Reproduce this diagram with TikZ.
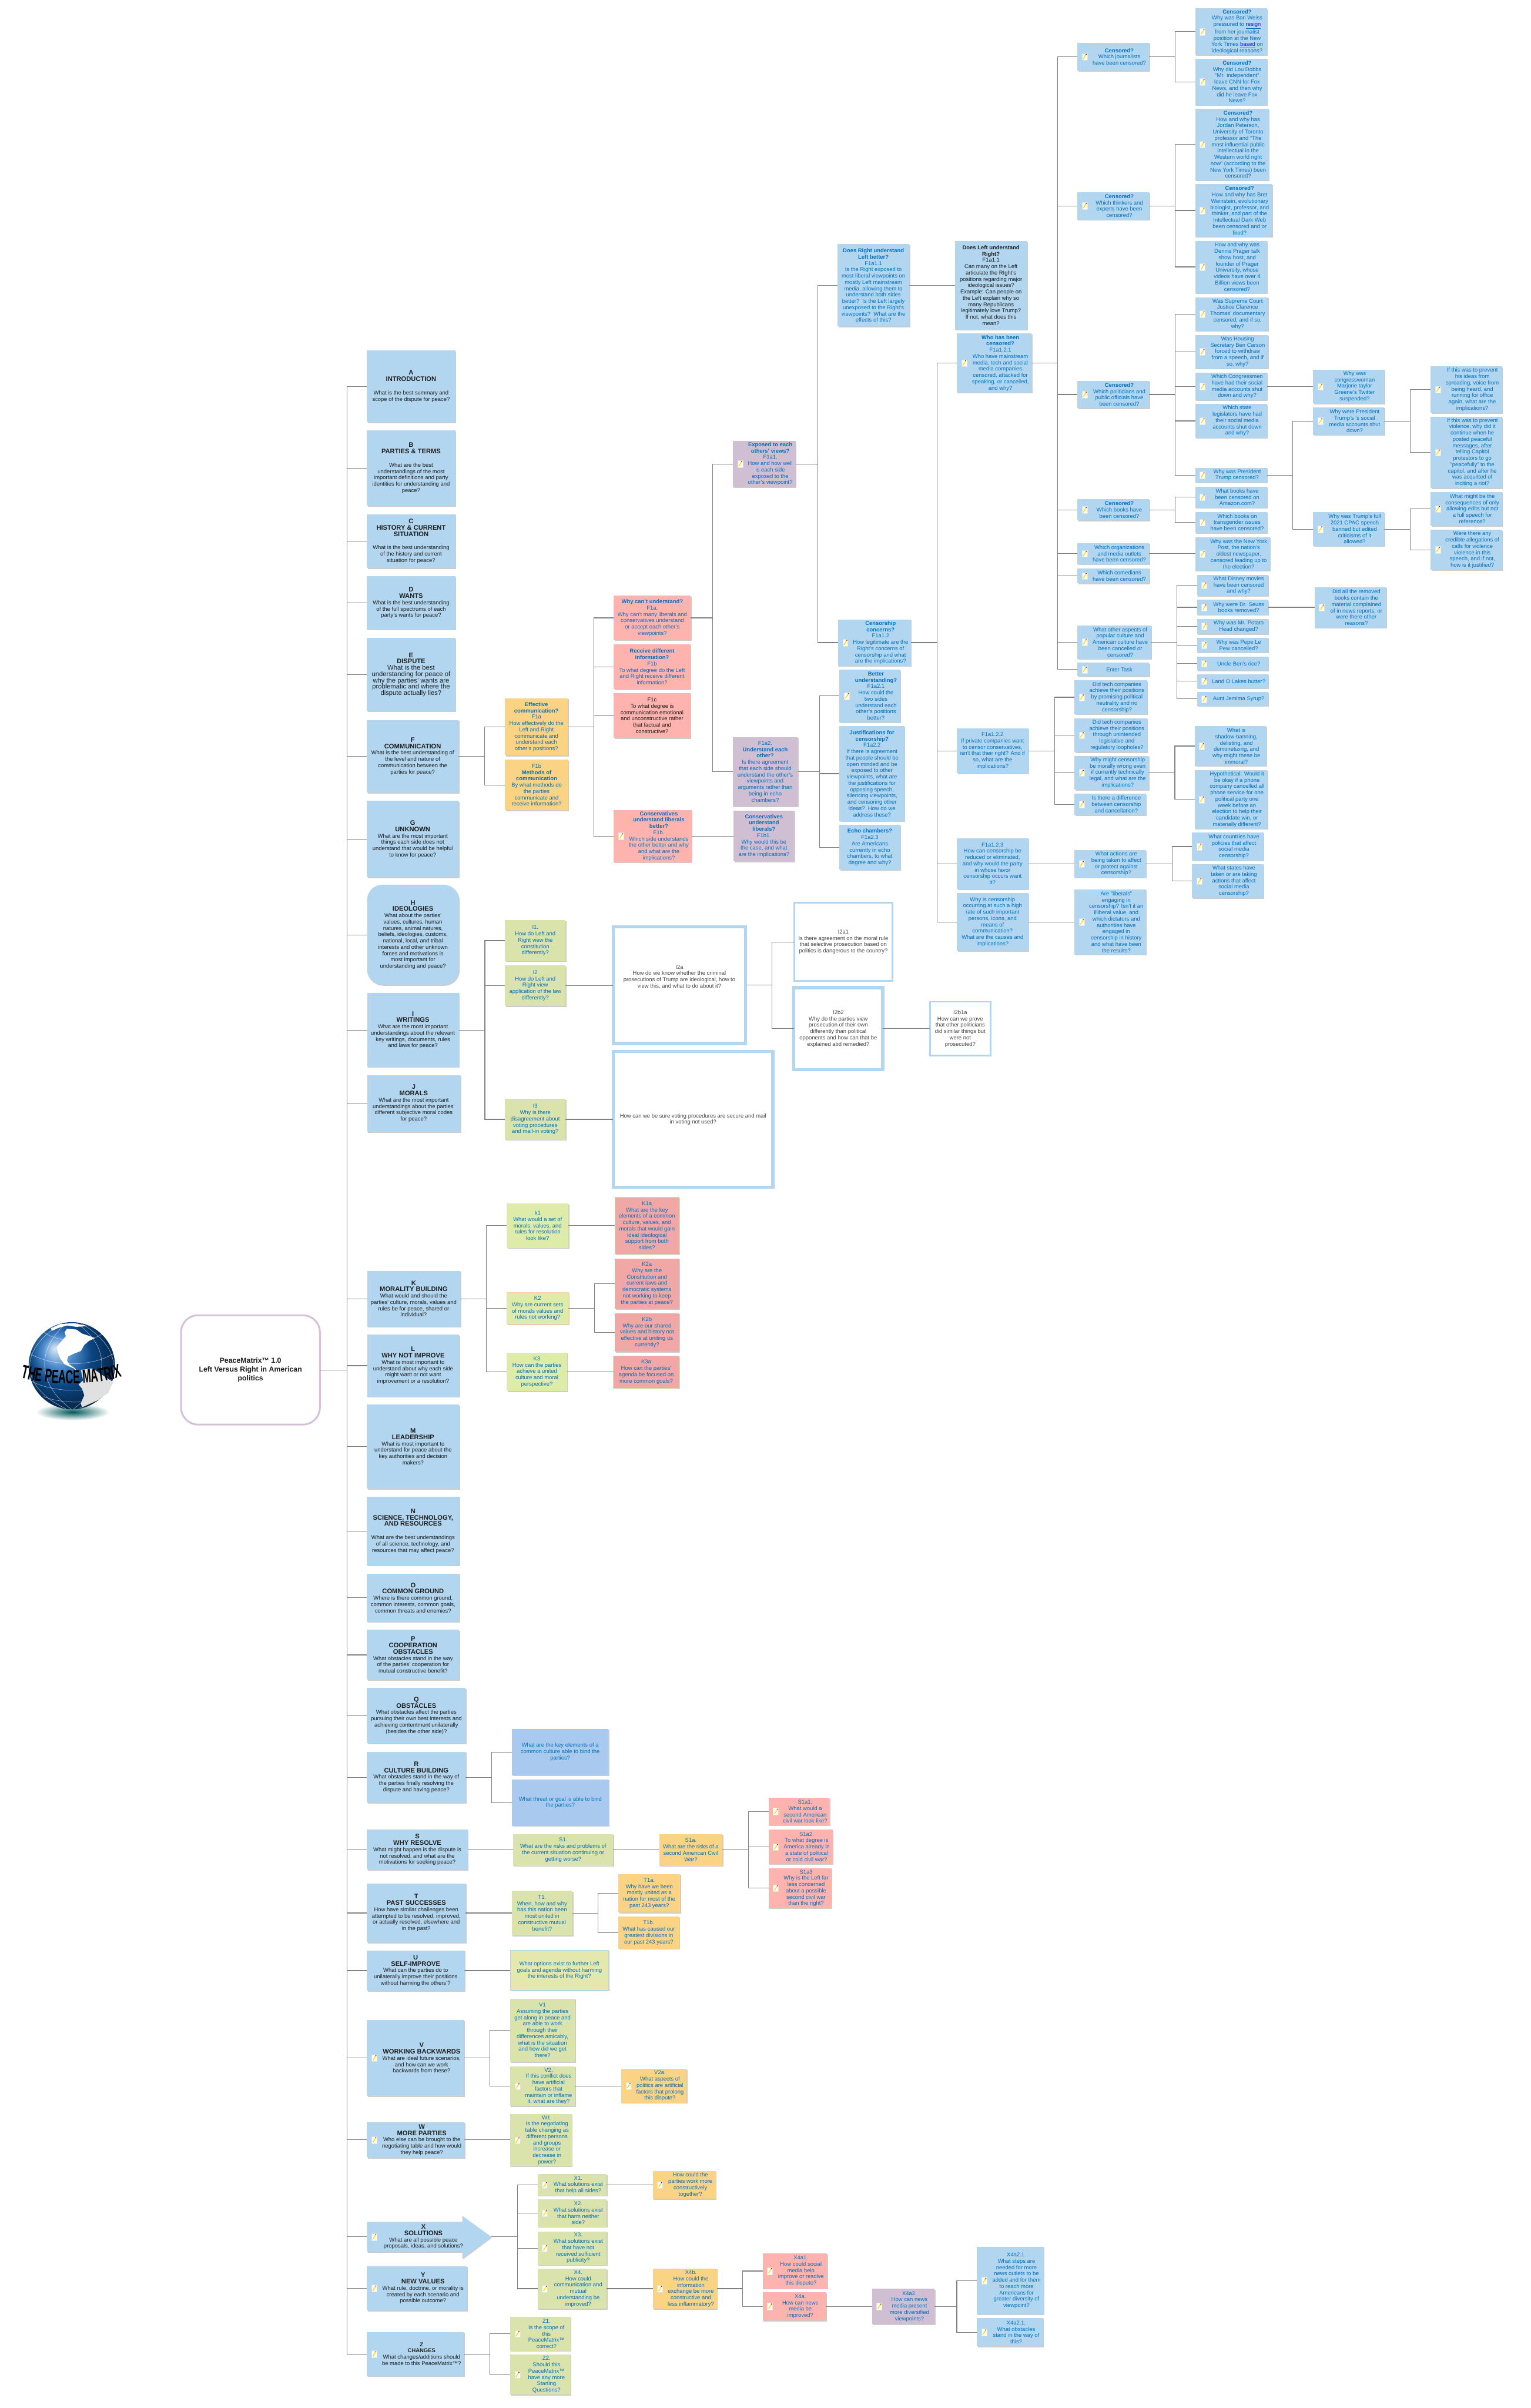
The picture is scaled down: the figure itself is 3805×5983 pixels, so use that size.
\documentclass[tikz,border=0pt]{standalone}
\usepackage{fontspec}
\setmainfont{Liberation Sans}
\newfontfamily\logofont[FakeStretch=0.55]{Liberation Sans}
\usetikzlibrary{shadows,decorations.text}
\definecolor{qblue}{HTML}{0070C0}
\definecolor{topink}{HTML}{1E1E1E}
\definecolor{frameink}{HTML}{444444}
\definecolor{cblue}{HTML}{B2D6EF}
\definecolor{corange}{HTML}{FBD384}
\definecolor{csalmon}{HTML}{FFB3AE}
\definecolor{cpurple}{HTML}{D0BED2}
\definecolor{cgreen}{HTML}{DAE3AC}
\definecolor{clime}{HTML}{DFEBA8}
\definecolor{cpink}{HTML}{F0A7A6}
\definecolor{cbluetwo}{HTML}{A9CAEE}
\definecolor{cyellow}{HTML}{E4E8AC}
\definecolor{linkgrey}{HTML}{808080}
\definecolor{frameblue}{HTML}{B2D6EF}
\definecolor{framepurple}{HTML}{D5C0D8}
\definecolor{globeblue}{HTML}{0F63BA}
\definecolor{linkblue}{HTML}{1A1AD0}
\tikzset{
  softshadow/.style={drop shadow={shadow xshift=1.1pt,shadow yshift=-1.1pt,opacity=.2,fill=black}},
  qbox/.style={rectangle,inner sep=0pt,outer sep=0pt,draw=none,softshadow},
  qtext/.style={align=center,inner sep=0pt,outer sep=0pt,font=\fontsize{6.9}{7.85}\selectfont},
  bblue/.style={fill=cblue},
  borange/.style={fill=corange},
  bsalmon/.style={fill=csalmon},
  bpurple/.style={fill=cpurple},
  bgreen/.style={fill=cgreen},
  blime/.style={fill=clime},
  bpink/.style={fill=cpink},
  bbluetwo/.style={fill=cbluetwo},
  byellow/.style={fill=cyellow},
  frame/.style={rectangle,inner sep=0pt,outer sep=0pt,fill=white,draw=frameblue,align=center,text=frameink,
      font=\fontsize{6.9}{7.85}\selectfont},
  linkline/.style={draw=linkgrey,line width=0.85pt},
  gridline/.style={draw=white,opacity=.65,line width=0.4pt},
}
\newcommand\crop[4]{\def\cX{#1}\def\cY{#2}\def\cSx{#3}\def\cSy{#4}}
\def\ink{qblue}
\newcommand\hd[1]{\textbf{#1}}
\newcommand\ttl[1]{{\fontsize{8.15}{8.3}\selectfont\bfseries #1}}
\newcommand\bigbody[1]{{\fontsize{8.2}{8.9}\selectfont #1}}
\newcommand\lnk[1]{\underline{\textcolor{linkblue}{#1}}}
\newcommand\placebox[6]{%
  \pgfmathsetmacro\pcx{\cX+(#2+#4)/2/\cSx}%
  \pgfmathsetmacro\pcy{\cY+(#3+#5)/2/\cSy}%
  \pgfmathsetmacro\pw{(#4-#2)/\cSx*0.5}%
  \pgfmathsetmacro\ph{(#5-#3)/\cSy*0.5}%
  \node[qbox,#6,minimum width=\pw pt,minimum height=\ph pt] (#1) at (\pcx,\pcy) {};}
\newcommand\noteicon[1]{%
  \begin{scope}[shift={(#1.west)}]
    \fill[white,draw=black!12,line width=.2pt] (11.5,-8.5) rectangle (24.5,8.5);
    \draw[draw=yellow!80!orange,line width=1.1pt] (14.5,6) -- (21.5,-5);
    \draw[draw=red!70!black,line width=1.1pt] (21.5,-5) -- (22.5,-6.7);
  \end{scope}}
\newcommand\qb[7]{\placebox{#1}{#2}{#3}{#4}{#5}{#6}%
  \node[qtext,text=\ink] (#1-t) at (#1.center) {#7};}
\newcommand\qbi[7]{\placebox{#1}{#2}{#3}{#4}{#5}{#6}\noteicon{#1}%
  \node[qtext,text=\ink,xshift=7.6pt] (#1-t) at (#1.center) {#7};}
\newcommand\tfork[3]{%
  \coordinate (trk) at (#2,0);
  \draw[linkline] (#1.east) -- (#1.east -| trk)
    foreach \chd in {#3} {(#1.east -| trk) -- (\chd.west -| trk) -- (\chd.west)};}
\newcommand\tlink[2]{\draw[linkline] (#1.east) -- (#1.east -| #2.west);}
\begin{document}
\begin{tikzpicture}[x=0.5pt,y=-0.5pt]
\useasboundingbox (0,0) rectangle (3805,5983);
\fill[white] (0,0) rectangle (3805,5983);

% ---------- globe logo (coordinates of the 900x420 crop) ----------
\begin{scope}[shift={(0,3200)},x=0.287pt,y=-0.16667pt]
  \shade[inner color=teal!70!black,outer color=white] (315,925) ellipse [x radius=160,y radius=62];
  \shade[ball color=globeblue] (311,580) ellipse [x radius=187,y radius=325];
  \draw[gridline] (190,330) .. controls (260,420) and (400,400) .. (440,345);
  \draw[gridline] (130,490) .. controls (230,590) and (400,590) .. (490,490);
  \draw[gridline] (135,695) .. controls (230,780) and (400,790) .. (480,700);
  \draw[gridline] (190,810) .. controls (260,860) and (360,860) .. (430,830);
  \draw[gridline] (290,258) .. controls (130,500) and (190,760) .. (310,905);
  \draw[gridline] (330,258) .. controls (520,500) and (430,760) .. (316,905);
  \draw[gridline] (270,262) .. controls (60,480) and (100,750) .. (285,900);
  \draw[gridline] (350,262) .. controls (560,480) and (520,750) .. (345,895);
  \fill[white] (290,305) -- (330,310) -- (355,340) -- (390,360) -- (410,375) -- (385,395) -- (365,425)
    -- (350,470) -- (320,490) -- (295,510) -- (290,540) -- (300,570) -- (325,600) -- (335,625)
    -- (320,600) -- (280,570) -- (262,530) -- (250,480) -- (245,440) -- (265,400) -- (285,360) -- (280,330) -- cycle;
  \fill[white!88!black] (350,610) -- (400,600) -- (470,680) -- (490,700) -- (470,780) -- (420,840) -- (355,890)
    -- (350,860) -- (365,800) -- (355,750) -- (340,720) -- (360,690) -- cycle;
  \fill[white] (220,300) -- (260,270) -- (320,262) -- (380,285) -- (330,290) -- (290,280) -- (250,300) -- (225,320) -- cycle;
  \path[decorate,decoration={text along path,text align=center,
      text={|\logofont\bfseries\fontsize{23.5}{24}\selectfont|THE PEACE MATRIX}}]
    (50,650) .. controls (200,735) and (420,735) .. (570,640);
\end{scope}

% ---------- root ----------
\node[frame,draw=framepurple,line width=2.2pt,rounded corners=21pt,minimum width=172.5pt,minimum height=135.75pt,
      text=topink,font=\fontsize{9}{11}\selectfont\bfseries] (root) at (622.5,3403.75)
  {PeaceMatrix™ 1.0\\Left Versus Right in American\\politics};

% ---------- top level A-G ----------
\def\ink{topink}
\crop{880}{850}{3}{1.206}
\qb{A}{96}{25}{754}{240}{bblue}{\ttl{A}\\\ttl{INTRODUCTION}\\[8.7pt]What is the best summary and\\scope of the dispute for peace?}
\qb{B}{96}{265}{754}{490}{bblue}{\ttl{B}\\\ttl{PARTIES \& TERMS}\\[8.7pt]What are the best\\understandings of the most\\important definitions and party\\identities for understanding and\\peace?}
\qb{C}{96}{516}{754}{677}{bblue}{\ttl{C}\\\ttl{HISTORY \& CURRENT}\\\ttl{SITUATION}\\[8.7pt]What is the best understanding\\of the history and current\\situation for peace?}
\qb{D}{96}{702}{754}{861}{bblue}{\ttl{D}\\\ttl{WANTS}\\What is the best understanding\\of the full spectrums of each\\party's wants for peace?}
\qb{E}{96}{887}{754}{1106}{bblue}{\ttl{E}\\\ttl{DISPUTE}\\\bigbody{What is the best}\\\bigbody{understanding for peace of}\\\bigbody{why the parties' wants are}\\\bigbody{problematic and where the}\\\bigbody{dispute actually lies?}}
\qb{F}{96}{1132}{778}{1350}{bblue}{\ttl{F}\\\ttl{COMMUNICATION}\\What is the best understanding of\\the level and nature of\\communication between the\\parties for peace?}
\qb{G}{96}{1375}{778}{1604}{bblue}{\ttl{G}\\\ttl{UNKNOWN}\\What are the most important\\things each side does not\\understand that would be helpful\\to know for peace?}

% ---------- H-L and their children ----------
\crop{880}{2180}{1.3635}{1.206}
\qb{H}{44}{22}{355}{322}{bblue,rounded corners=19pt}{\ttl{H}\\\ttl{IDEOLOGIES}\\What about the parties'\\values, cultures, human\\natures, animal natures,\\beliefs, ideologies, customs,\\national, local, and tribal\\interests and other unknown\\forces and motivations is\\most important for\\understanding and peace?}
\qb{I}{44}{347}{355}{568}{bblue}{\ttl{I}\\\ttl{WRITINGS}\\What are the most important\\understandings about the relevant\\key writings, documents, rules\\and laws for peace?}
\qb{J}{44}{592}{360}{762}{bblue}{\ttl{J}\\\ttl{MORALS}\\What are the most important\\understandings about the parties'\\different subjective moral codes\\for peace?}
\qb{K}{44}{1179}{360}{1346}{bblue}{\ttl{K}\\\ttl{MORALITY BUILDING}\\What would and should the\\parties' culture, morals, values and\\rules be for peace, shared or\\individual?}
\qb{L}{44}{1370}{356}{1556}{bblue}{\ttl{L}\\\ttl{WHY NOT IMPROVE}\\What is most important to\\understand about why each side\\might want or not want\\improvement or a resolution?}
\def\ink{qblue}
\qb{i1}{511}{128}{717}{251}{bgreen}{I1.\\How do Left and\\Right view the\\constitution\\differently?}
\qb{i2}{511}{264}{717}{385}{bgreen}{I2\\How do Left and\\Right view\\application of the law\\differently?}
\qb{i3}{511}{664}{717}{786}{bgreen}{I3\\Why is there\\disagreement about\\voting procedures\\and mail-in voting?}
\qb{k1}{517}{977}{727}{1110}{blime}{k1\\What would a set of\\morals, values, and\\rules for resolution\\look like?}
\qb{k2}{517}{1243}{727}{1339}{blime,draw=orange!35,line width=.6pt}{K2\\Why are current sets\\of morals values and\\rules not working?}
\qb{k3}{517}{1424}{722}{1539}{blime}{K3\\How can the parties\\achieve a united\\culture and moral\\perspective?}
\qb{ka1}{884}{958}{1101}{1129}{bpink,draw=cgreen,line width=.6pt}{K1a\\What are the key\\elements of a common\\culture, values, and\\morals that would gain\\ideal ideological\\support from both\\sides?}
\qb{ka2}{884}{1142}{1101}{1293}{bpink}{K2a\\Why are the\\Constitution and\\current laws and\\democratic systems\\not working to keep\\the parties at peace?}
\qb{kb2}{884}{1306}{1101}{1421}{bpink}{K2b\\Why are our shared\\values and history not\\effective at uniting us\\currently?}
\qb{ka3}{879}{1434}{1101}{1530}{bpink,draw=cgreen,line width=.6pt}{K3a\\How can the parties'\\agenda be focused on\\more common goals?}

% white framed question boxes
\node[frame,line width=4pt,minimum width=164.5pt,minimum height=145.2pt] (i2a) at (1688.5,2447.8)
  {I2a\\How do we know whether the criminal\\prosecutions of Trump are ideological, how to\\view this, and what to do about it?\\[14pt]\mbox{}};
\node[frame,line width=4pt,minimum width=198.5pt,minimum height=168.5pt] (vote) at (1722.5,2781.2)
  {How can we be sure voting procedures are secure and mail\\in voting not used?};
\node[frame,line width=2.1pt,minimum width=122pt,minimum height=97.2pt] (qa) at (2096,2340.2)
  {I2a1\\Is there agreement on the moral rule\\that selective prosecution based on\\politics is dangerous to the country?};
\node[frame,line width=3.75pt,minimum width=110.5pt,minimum height=102pt] (qb) at (2083.5,2556)
  {I2b2\\Why do the parties view\\prosecution of their own\\differently than political\\opponents and how can that be\\explained abd remedied?};
\node[frame,line width=2pt,minimum width=75.5pt,minimum height=67pt] (qc) at (2386.5,2556)
  {I2b1a\\How can we prove\\that other politicians\\did similar things but\\were not\\prosecuted?};

% ---------- M-R ----------
\def\ink{topink}
\crop{880}{3480}{3}{1.4255}
\qb{M}{96}{14}{784}{312}{bblue}{\ttl{M}\\\ttl{LEADERSHIP}\\What is most important to\\understand for peace about the\\key authorities and decision\\makers?}
\qb{N}{96}{340}{784}{584}{bblue}{\ttl{N}\\\ttl{SCIENCE, TECHNOLOGY,}\\\ttl{AND RESOURCES}\\[8.7pt]What are the best understandings\\of all science, technology, and\\resources that may affect peace?}
\qb{O}{96}{613}{784}{783}{bblue}{\ttl{O}\\\ttl{COMMON GROUND}\\Where is there common ground,\\common interests, common goals,\\common threats and enemies?}
\qb{P}{96}{812}{784}{989}{bblue}{\ttl{P}\\\ttl{COOPERATION}\\\ttl{OBSTACLES}\\What obstacles stand in the way\\of the parties' cooperation for\\mutual constructive benefit?}
\qb{Q}{96}{1018}{832}{1214}{bblue}{\ttl{Q}\\\ttl{OBSTACLES}\\What obstacles affect the parties\\pursuing their own best interests and\\achieving contentment unilaterally\\(besides the other side)?}
\qb{R}{96}{1244}{832}{1424}{bblue}{\ttl{R}\\\ttl{CULTURE BUILDING}\\What obstacles stand in the way of\\the parties finally resolving the\\dispute and having peace?}

% ---------- S-Z ----------
\crop{880}{4500}{1.96}{1.0573}
\qb{S}{63}{49}{553}{154}{bblue}{\ttl{S}\\\ttl{WHY RESOLVE}\\What might happen is the dispute is\\not resolved, and what are the\\motivations for seeking peace?}
\qb{T}{63}{190}{543}{345}{bblue}{\ttl{T}\\\ttl{PAST SUCCESSES}\\How have similar challenges been\\attempted to be resolved, improved,\\or actually resolved, elsewhere and\\in the past?}
\qb{U}{63}{366}{537}{472}{bblue}{\ttl{U}\\\ttl{SELF-IMPROVE}\\What can the parties do to\\unilaterally improve their positions\\without harming the others'?}
\qbi{V}{63}{549}{535}{748}{bblue}{\ttl{V}\\\ttl{WORKING BACKWARDS}\\What are ideal future scenarios,\\and how can we work\\backwards from these?}
\qbi{W}{63}{817}{537}{910}{bblue}{\ttl{W}\\\ttl{MORE PARTIES}\\Who else can be brought to the\\negotiating table and how would\\they help peace?}
\path[fill=cblue,softshadow] (912,5520.5) -- (1149,5520.5) -- (1149,5505.4) -- (1220.8,5557.7) -- (1149,5611)
  -- (1149,5595) -- (912,5595) -- cycle;
\node[rectangle,inner sep=0pt,outer sep=0pt,minimum width=154.4pt,minimum height=37.2pt] (X) at (1066.4,5557.7) {};
\noteicon{X}
\node[qtext,text=\ink] (X-t) at (1052.4,5557.7) {\ttl{X}\\\ttl{SOLUTIONS}\\What are all possible peace\\proposals, ideas, and solutions?};
\qbi{Y}{63}{1195}{549}{1312}{bblue}{\ttl{Y}\\\ttl{NEW VALUES}\\What rule, doctrine, or morality is\\created by each scenario and\\possible outcome?}
\qbi{Z}{63}{1368}{535}{1484}{bblue}{\hd{Z}\\\hd{CHANGES}\\What changes/additions should\\be made to this PeaceMatrix™?}
\def\ink{qblue}
\qbi{w1}{760}{796}{1060}{933}{bgreen}{W1.\\Is the negotiating\\table changing as\\different persons\\and groups\\increase or\\decrease in\\power?}
\qbi{x1}{894}{954}{1230}{1010}{bgreen}{X1.\\What solutions exist\\that help all sides?}
\qbi{x2}{894}{1020}{1230}{1092}{bgreen}{X2.\\What solutions exist\\that harm neither\\side?}
\qbi{x3}{894}{1104}{1230}{1192}{bgreen}{X3.\\What solutions exist\\that have not\\received sufficient\\publicity?}
\qbi{x4}{894}{1202}{1230}{1307}{bgreen}{X4.\\How could\\communication and\\mutual\\understanding be\\improved?}
\qbi{z1}{760}{1328}{1055}{1418}{bgreen}{Z1.\\Is the scope of\\this\\PeaceMatrix™\\correct?}
\qbi{z2}{760}{1428}{1055}{1533}{bgreen}{Z2.\\Should this\\PeaceMatrix™\\have any more\\Starting\\Questions?}

\crop{1200}{4280}{1.742}{1.568}
\qb{r1}{126}{24}{544}{205}{bbluetwo}{What are the key elements of a\\common culture able to bind the\\parties?}
\qb{r2}{126}{221}{545}{402}{bbluetwo}{What threat or goal is able to bind\\the parties?}
\qb{s1}{132}{434}{564}{558}{bgreen}{S1.\\What are the risks and problems of\\the current situation continuing or\\getting worse?}
\qb{s1a}{764}{434}{1037}{558}{borange}{S1a.\\What are the risks of a\\second American Civil\\War?}
\qbi{s1a1}{1237}{293}{1501}{400}{bsalmon}{S1a1.\\What would a\\second American\\civil war look like?}
\qbi{s1a2}{1237}{417}{1514}{551}{bsalmon}{S1a2.\\To what degree is\\America already in\\a state of political\\or cold civil war?}
\qbi{s1a3}{1237}{567}{1509}{723}{bsalmon}{S1a3\\Why is the Left far\\less concerned\\about a possible\\second civil war\\than the right?}
\qb{t1}{125}{655}{388}{829}{bgreen}{T1.\\When, how and why\\has this nation been\\most united in\\constructive mutual\\benefit?}
\qb{t1a}{587}{590}{854}{740}{borange}{T1a.\\Why have we been\\mostly united as a\\nation for most of the\\past 243 years?}
\qb{t1b}{587}{756}{850}{881}{borange}{T1b.\\What has caused our\\greatest divisions in\\our past 243 years?}
\qb{u1}{119}{888}{544}{1043}{byellow,draw=cblue,line width=.8pt}{What options exist to further Left\\goals and agenda without harming\\the interests of the Right?}
\qb{v1}{118}{1075}{399}{1322}{bgreen}{V1\\Assuming the parties\\get along in peace and\\are able to work\\through their\\differences amicably,\\what is the situation\\and how did we get\\there?}
\qbi{v2}{118}{1339}{399}{1494}{bgreen}{V2.\\If this conflict does\\have artificial\\factors that\\maintain or inflame\\it, what are they?}
\qbi{v2a}{599}{1349}{882}{1481}{borange}{V2a.\\What aspects of\\politics are artificial\\factors that prolong\\this dispute?}

\crop{1600}{5350}{1.3067}{2.477}
\qbi{xwork}{29}{110}{234}{280}{borange}{How could the\\parties work more\\constructively\\together?}
\qbi{xfb}{29}{710}{237}{957}{borange}{X4b.\\How could the\\information\\exchange be more\\constructive and\\less inflammatory?}
\qbi{xfa}{386}{617}{595}{832}{bsalmon}{X4a1.\\How could social\\media help\\improve or resolve\\this dispute?}
\qbi{xfn}{386}{855}{591}{1030}{bsalmon}{X4a.\\How can news\\media be\\improved?}
\qbi{xfp}{741}{835}{945}{1051}{bpurple}{X4a2.\\How can news\\media present\\more diversified\\viewpoints?}
\qbi{xfs}{1082}{577}{1299}{991}{bblue}{X4a2.1.\\What steps are\\needed for more\\news outlets to be\\added and for them\\to reach more\\Americans for\\greater diversity of\\viewpoint?}
\qbi{xfo}{1082}{1014}{1297}{1189}{bblue}{X4a2.1.\\What obstacles\\stand in the way of\\this?}

% ---------- F branch ----------
\crop{1200}{1050}{1.96}{1.3635}
\qb{effective}{108}{934}{414}{1128}{borange}{\hd{Effective}\\\hd{communication?}\\F1a\\How effectively do the\\Left and Right\\communicate and\\understand each\\other's positions?}
\qb{methods}{108}{1142}{416}{1313}{borange}{F1b\\\hd{Methods of}\\\hd{communication}\\By what methods do\\the parties\\communicate and\\receive information?}
\qb{whycant}{638}{586}{1013}{737}{bsalmon}{\hd{Why can't understand?}\\F1a.\\Why can't many liberals and\\conservatives understand\\or accept each other's\\viewpoints?}
\qb{receive}{638}{752}{1011}{903}{bsalmon}{\hd{Receive different}\\\hd{information?}\\F1b\\To what degree do the Left\\and Right receive different\\information?}
\def\ink{topink}
\qb{fc}{638}{917}{1011}{1068}{bsalmon}{F1c\\To what degree is\\communication emotional\\and unconstructive rather\\that factual and\\constructive?}
\def\ink{qblue}
\qbi{conserv}{638}{1312}{1017}{1490}{bsalmon}{\hd{Conservatives}\\\hd{understand liberals}\\\hd{better?}\\F1b.\\Which side understands\\the other better and why\\and what are the\\implications?}
\qb{consund}{1222}{1314}{1517}{1487}{bpurple}{\hd{Conservatives}\\\hd{understand}\\\hd{liberals?}\\F1b1.\\Why would this be\\the case, and what\\are the implications?}
\qbi{exposed}{1218}{62}{1523}{218}{bpurple}{\hd{Exposed to each}\\\hd{others' views?}\\F1a1.\\How and how well\\is each side\\exposed to the\\other's viewpoint?}
\qb{faII}{1218}{1065}{1533}{1300}{bpurple}{F1a2.\\\hd{Understand each}\\\hd{other?}\\Is there agreement\\that each side should\\understand the other's\\viewpoints and\\arguments rather than\\being in echo\\chambers?}

\crop{1750}{580}{1.742}{1.568}
\qb{rightb}{578}{42}{888}{362}{bblue}{\hd{Does Right understand}\\\hd{Left better?}\\F1a1.1\\Is the Right exposed to\\most liberal viewpoints on\\mostly Left mainstream\\media, allowing them to\\understand both sides\\better?\ \ Is the Left largely\\unexposed to the Right's\\viewpoints?\ \ What are the\\effects of this?}
\def\ink{topink}
\qb{leftu}{1087}{30}{1397}{375}{bblue}{\hd{Does Left understand}\\\hd{Right?}\\F1a1.1\\Can many on the Left\\articulate the RIght's\\positions regarding major\\ideological issues?\\Example: Can people on\\the Left explain why so\\many Republicans\\legitimately love Trump?\\If not, what does this\\mean?}
\def\ink{qblue}
\qbi{who}{1094}{390}{1418}{620}{bblue}{\hd{Who has been}\\\hd{censored?}\\F1a1.2.1\\Who have mainstream\\media, tech and social\\media companies\\censored, attacked for\\speaking, or cancelled,\\and why?}

\crop{2000}{1500}{1.3067}{1.568}
\qbi{concerns}{108}{61}{345}{242}{bblue}{\hd{Censorship}\\\hd{concerns?}\\F1a1.2\\How legitimate are the\\Right's concerns of\\censorship and what\\are the implications?}
\qbi{better}{113}{257}{310}{462}{bblue}{\hd{Better}\\\hd{understanding?}\\F1a2.1\\How could the\\two sides\\understand each\\other's positions\\better?}
\qb{justif}{113}{477}{324}{847}{bblue}{\hd{Justifications for}\\\hd{censorship?}\\F1a2.2\\If there is agreement\\that people should be\\open minded and be\\exposed to other\\viewpoints, what are\\the justifications for\\opposing speech,\\silencing viewpoints,\\and censoring other\\ideas?\ \ How do we\\address these?}
\qb{echo}{113}{862}{310}{1036}{bblue}{\hd{Echo chambers?}\\F1a2.3\\Are Americans\\currently in echo\\chambers, to what\\degree and why?}
\qb{fbb}{494}{486}{726}{660}{bblue}{F1a1.2.2\\If private companies want\\to censor conservatives,\\isn't that their right? And if\\so, what are the\\implications?}
\qbi{tecka}{876}{299}{1112}{430}{bblue}{Did tech companies\\achieve their positions\\by promising political\\neutrality and no\\censorship?}
\qbi{teckb}{876}{446}{1112}{578}{bblue}{Did tech companies\\achieve their positions\\through unintended\\legislative and\\regulatory loopholes?}
\qbi{moral}{876}{593}{1117}{724}{bblue}{Why might censorship\\be morally wrong even\\if currently technically\\legal, and what are the\\implications?}
\qbi{differ}{876}{740}{1108}{823}{bblue}{Is there a difference\\between censorship\\and cancellation?}
\qbi{shadow}{1266}{477}{1498}{632}{bblue}{What is\\shadow-banning,\\delisting, and\\demonetizing, and\\why might these be\\immoral?}
\qbi{hypo}{1266}{648}{1502}{877}{bblue}{Hypothetical: Would it\\be okay if a phone\\company cancelled all\\phone service for one\\political party one\\week before an\\election to help their\\candidate win, or\\materially different?}
\qb{fbc}{494}{914}{726}{1112}{bblue}{F1a1.2.3\\How can censorship be\\reduced or eliminated,\\and why would the party\\in whose favor\\censorship occurs want\\it?}
\qbi{actions}{876}{960}{1108}{1067}{bblue}{What actions are\\being taken to affect\\or protect against\\censorship?}
\qbi{countries}{1258}{892}{1490}{1000}{bblue}{What countries have\\policies that affect\\social media\\censorship?}
\qbi{states}{1258}{1015}{1490}{1146}{bblue}{What states have\\taken or are taking\\actions that affect\\social media\\censorship?}
\qb{causes}{494}{1128}{726}{1352}{bblue}{Why is censorship\\occurring at such a high\\rate of such important\\persons, icons, and\\means of\\communication?\\What are the causes and\\implications?}
\qbi{liberals}{876}{1113}{1108}{1367}{bblue}{Are "liberals"\\engaging in\\censorship? Isn't it an\\illiberal value, and\\which dictators and\\authorities have\\engaged in\\censorship in history\\and what have been\\the results?}

% ---------- censorship detail, top right ----------
\crop{2600}{0}{1.3012}{1.568}
\qbi{journ}{101}{167}{333}{275}{bblue}{\hd{Censored?}\\Which journalists\\have been censored?}
\qbi{bari}{482}{33}{714}{214}{bblue}{\hd{Censored?}\\Why was Bari Weiss\\pressured to \lnk{resign}\\from her journalist\\position at the New\\York Times \lnk{based} on\\ideological reasons?}
\qbi{dobbs}{482}{229}{714}{409}{bblue}{\hd{Censored?}\\Why did Lou Dobbs\\"Mr. independent"\\leave CNN for Fox\\News, and then why\\did he leave Fox\\News?}
\qbi{thinkers}{101}{748}{333}{856}{bblue}{\hd{Censored?}\\Which thinkers and\\experts have been\\censored?}
\qbi{peterson}{482}{424}{720}{702}{bblue}{\hd{Censored?}\\How and why has\\Jordan Peterson,\\University of Toronto\\professor and "The\\most influential public\\intellectual in the\\Western world right\\now" (according to the\\New York Times) been\\censored?}
\qbi{weinstein}{482}{718}{730}{922}{bblue}{\hd{Censored?}\\How and why has Bret\\Weinstein, evolutionary\\biologist, professor, and\\thinker, and part of the\\Intellectual Dark Web\\been censored and or\\fired?}
\qbi{prager}{482}{938}{714}{1142}{bblue}{How and why was\\Dennis Prager talk\\show host, and\\founder of Prager\\University, whose\\videos have over 4\\Billion views been\\censored?}
\qbi{thomas}{482}{1158}{717}{1289}{bblue}{Was Supreme Court\\Justice Clarence\\Thomas' documentary\\censored, and if so,\\why?}
\qbi{carson}{482}{1305}{717}{1436}{bblue}{Was Housing\\Secretary Ben Carson\\forced to withdraw\\from a speech, and if\\so, why?}
\qbi{congress}{482}{1452}{714}{1559}{bblue}{Which Congressmen\\have had their social\\media accounts shut\\down and why?}
\qbi{politic}{101}{1484}{333}{1590}{bblue}{\hd{Censored?}\\Which politicians and\\public officials have\\been censored?}
\qbi{greene}{863}{1440}{1093}{1572}{bblue}{Why was\\congresswoman\\Marjorie taylor\\Greene's Twitter\\suspended?}
\qbi{prevent}{1243}{1428}{1474}{1608}{bblue}{If this was to prevent\\his ideas from\\spreading, voice from\\being heard, and\\running for office\\again, what are the\\implications?}

\crop{2600}{1000}{1.3012}{1.568}
\qbi{statel}{482}{6}{714}{138}{bblue}{Which state\\legislators have had\\their social media\\accounts shut down\\and why?}
\qbi{trumpc}{482}{254}{714}{312}{bblue}{Why was President\\Trump censored?}
\qbi{amazon}{482}{328}{714}{410}{bblue}{What books have\\been censored on\\Amazon.com?}
\qbi{transg}{482}{426}{714}{508}{bblue}{Which books on\\transgender issues\\have been censored?}
\qbi{books}{101}{377}{333}{460}{bblue}{\hd{Censored?}\\Which books have\\been censored?}
\qbi{orgs}{101}{548}{333}{630}{bblue}{Which organizations\\and media outlets\\have been censored?}
\qbi{nypost}{482}{525}{724}{655}{bblue}{Why was the New York\\Post, the nation's\\oldest newspaper,\\censored leading up to\\the election?}
\qbi{comed}{101}{646}{333}{705}{bblue}{Which comedians\\have been censored?}
\qbi{disney}{488}{672}{718}{753}{bblue}{What Disney movies\\have been censored\\and why?}
\qbi{seuss}{488}{769}{718}{827}{bblue}{Why were Dr. Seuss\\books removed?}
\qbi{potato}{488}{843}{718}{901}{bblue}{Why was Mr. Potato\\Head changed?}
\qbi{pepe}{488}{917}{718}{974}{bblue}{Why was Pepe Le\\Pew cancelled?}
\qbi{bens}{488}{990}{718}{1044}{bblue}{Uncle Ben's rice?}
\qbi{lakes}{488}{1059}{718}{1113}{bblue}{Land O Lakes butter?}
\qbi{jemima}{488}{1128}{718}{1182}{bblue}{Aunt Jemima Syrup?}
\qbi{aspects}{101}{868}{339}{999}{bblue}{What other aspects of\\popular culture and\\American culture have\\been cancelled or\\censored?}
\qbi{entertask}{101}{1014}{333}{1067}{bblue}{Enter Task}
\qbi{removed}{868}{720}{1099}{877}{bblue}{Did all the removed\\books contain the\\material complained\\of in news reports, or\\were there other\\reasons?}
\qbi{accounts}{863}{19}{1093}{126}{bblue}{Why were President\\Trump's 's social\\media accounts shut\\down?}
\qbi{cpac}{863}{428}{1093}{559}{bblue}{Why was Trump's full\\2021 CPAC speech\\banned but edited\\criticisms of it\\allowed?}
\qbi{violence}{1243}{56}{1474}{333}{bblue}{If this was to prevent\\violence, why did it\\continue when he\\posted peaceful\\messages, after\\telling Capitol\\protestors to go\\"peacefully" to the\\capitol, and after he\\was acquitted of\\inciting a riot?}
\qbi{edits}{1243}{349}{1474}{480}{bblue}{What might be the\\consequences of only\\allowing edits but not\\a full speech for\\reference?}
\qbi{alleg}{1243}{496}{1474}{652}{bblue}{Were there any\\credible allegations of\\calls for violence\\violence in this\\speech, and if not,\\how is it justified?}

% ---------- connectors ----------
\tfork{root}{863}{A,B,C,D,E,F,G,H,I,J,K,L,M,N,O,P,Q,R,S,T,U,V,W,X,Y,Z}
\tfork{F}{1204.6}{effective,methods}
\tfork{effective}{1475.5}{whycant,receive,fc,conserv}
\tlink{conserv}{consund}
\tfork{whycant}{1771}{exposed,faII}
\tfork{exposed}{2032}{rightb,concerns}
\tlink{rightb}{leftu}
\tfork{faII}{2037}{better,justif,echo}
\tfork{concerns}{2329}{who,fbb,fbc,causes}
\tfork{who}{2629}{journ,thinkers,politic,books,orgs,comed,aspects,entertask}
\tfork{journ}{2920.5}{bari,dobbs}
\tfork{thinkers}{2920.5}{peterson,weinstein,prager}
\tfork{politic}{2920.5}{thomas,carson,congress,statel,trumpc}
\tfork{books}{2920.5}{amazon,transg}
\tlink{orgs}{nypost}
\tfork{aspects}{2925}{disney,seuss,potato,pepe,bens,lakes,jemima}
\tlink{seuss}{removed}
\tlink{congress}{greene}
\tfork{trumpc}{3212.5}{accounts,cpac}
\tfork{accounts}{3505}{prevent,violence}
\tfork{cpac}{3505}{edits,alleg}
\tfork{fbb}{2620.7}{tecka,teckb,moral,differ}
\tfork{moral}{2920}{shadow,hypo}
\tlink{fbc}{actions}
\tfork{actions}{2913}{countries,states}
\tlink{causes}{liberals}
\tfork{I}{1205}{i1,i2,i3}
\tlink{i2}{i2a}
\tlink{i3}{vote}
\tfork{i2a}{1919}{qa,qb}
\tlink{qb}{qc}
\tfork{K}{1208.6}{k1,k2,k3}
\tlink{k1}{ka1}
\tfork{k2}{1477.7}{ka2,kb2}
\tlink{k3}{ka3}
\tfork{R}{1222.4}{r1,r2}
\tlink{S}{s1}
\tlink{s1}{s1a}
\tfork{s1a}{1860.7}{s1a1,s1a2,s1a3}
\tlink{T}{t1}
\tfork{t1}{1486.5}{t1a,t1b}
\tlink{U}{u1}
\tfork{V}{1217.8}{v1,v2}
\tlink{v2}{v2a}
\tlink{W}{w1}
\tfork{X}{1286.6}{x1,x2,x3,x4}
\tlink{x1}{xwork}
\tlink{x4}{xfb}
\tfork{xfb}{1845}{xfa,xfn}
\tlink{xfn}{xfp}
\tfork{xfp}{2378}{xfs,xfo}
\tfork{Z}{1217}{z1,z2}
\end{tikzpicture}
\end{document}
